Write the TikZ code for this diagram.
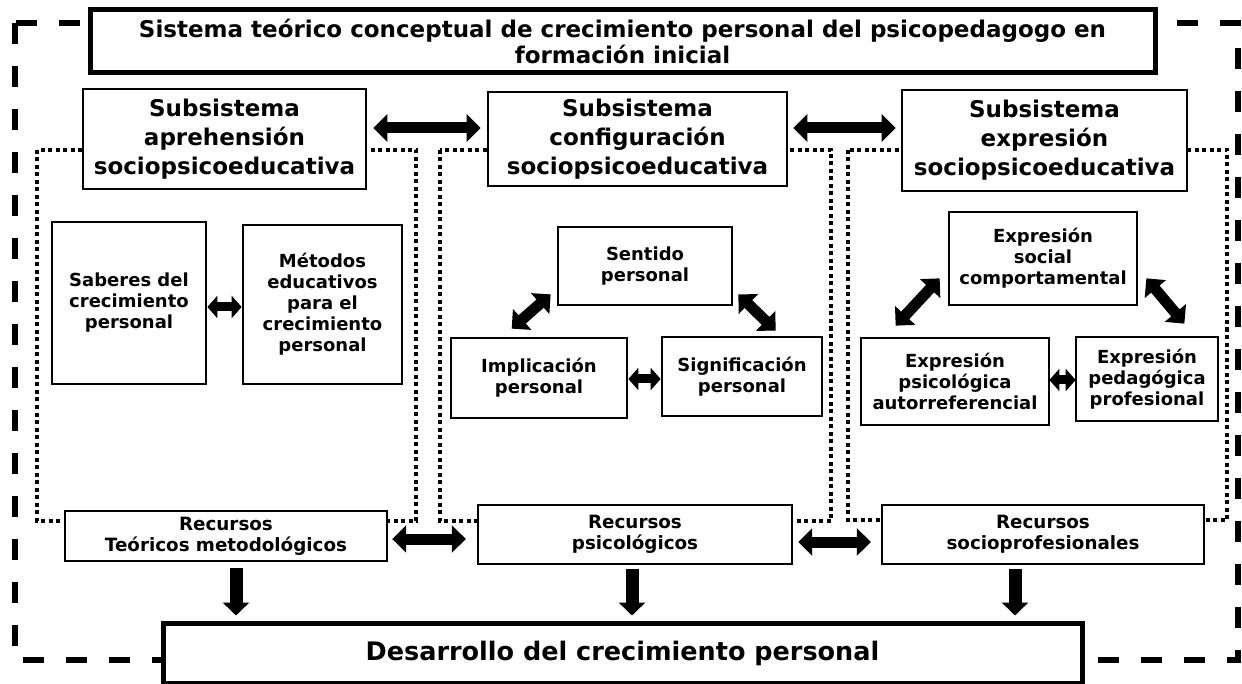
\documentclass[tikz,border=0pt]{standalone}
\usepackage{fontspec}
\setmainfont{DejaVu Sans}
\usepackage{tikz}
\usetikzlibrary{arrows.meta}
\tikzset{box/.style={draw, fill=white, line width=2.7pt, align=center, inner sep=0pt},
    thickbox/.style={box, line width=5pt},
    region/.style={line width=4pt, dash pattern=on 4pt off 3.5pt},
    frame/.style={line width=5.5pt, dash pattern=on 21pt off 22pt},
    link/.style={line width=11pt, {Triangle[width=27pt,length=14pt]}-{Triangle[width=27pt,length=14pt]}},
    small link/.style={line width=9pt, {Triangle[width=22pt,length=10pt]}-{Triangle[width=22pt,length=10pt]}},
    down link/.style={line width=13pt, -{Triangle[width=26pt,length=13pt]}}}

\begin{document}
\begin{tikzpicture}[x=1pt, y=-1pt,
        head/.style={font=\bfseries\fontsize{23}{29}\selectfont},
        inner/.style={font=\bfseries\fontsize{18}{21}\selectfont},
        res/.style={font=\bfseries\fontsize{18.3}{21}\selectfont}]
    \useasboundingbox (0,0) rectangle (1242,684);
    \draw[frame] (15,23) rectangle (1238,660);
    \draw[region] (37,150) rectangle (416,521);
    \draw[region] (440,150) rectangle (831,521);
    \draw[region] (848,150) rectangle (1227,520);

    \node[thickbox, minimum width=1065pt, minimum height=63pt,
        font=\bfseries\fontsize{23}{26}\selectfont] (sistema) at (622.5,41.5)
        {Sistema teórico conceptual de crecimiento personal del psicopedagogo en\\formación inicial};

    \node[box, head, minimum width=283pt, minimum height=100pt] (aprehension) at (224.5,139)
        {Subsistema\\aprehensión\\sociopsicoeducativa};
    \node[box, head, minimum width=299pt, minimum height=94pt] (configuracion) at (637.5,139)
        {Subsistema\\configuración\\sociopsicoeducativa};
    \node[box, head, minimum width=285pt, minimum height=101pt] (expresion) at (1044.5,140.5)
        {Subsistema\\expresión\\sociopsicoeducativa};

    \node[box, inner, minimum width=154pt, minimum height=162pt] (saberes) at (129,303)
        {Saberes del\\crecimiento\\personal};
    \node[box, inner, minimum width=159pt, minimum height=159pt] (metodos) at (322.5,304.5)
        {Métodos\\educativos\\para el\\crecimiento\\personal};

    \node[box, inner, minimum width=174pt, minimum height=78pt] (sentido) at (645,266)
        {Sentido\\personal};
    \node[box, inner, minimum width=176pt, minimum height=80pt] (implicacion) at (539,378)
        {Implicación\\personal};
    \node[box, inner, minimum width=160pt, minimum height=79pt] (significacion) at (742,376.5)
        {Significación\\personal};

    \node[box, inner, minimum width=188pt, minimum height=93pt] (social) at (1043,258.5)
        {Expresión\\social\\comportamental};
    \node[box, inner, minimum width=188pt, minimum height=87pt] (psicologica) at (955,381.5)
        {Expresión\\psicológica\\autorreferencial};
    \node[box, inner, minimum width=142pt, minimum height=84pt] (pedagogica) at (1147,379)
        {Expresión\\pedagógica\\profesional};

    \node[box, res, line width=2.4pt, minimum width=322pt, minimum height=50pt] (teoricos) at (226,536)
        {Recursos\\Teóricos metodológicos};
    \node[box, res, line width=2.4pt, minimum width=314pt, minimum height=59pt] (psicologicos) at (635,534.5)
        {Recursos\\psicológicos};
    \node[box, res, line width=2.4pt, minimum width=322pt, minimum height=59pt] (socioprof) at (1043,534.5)
        {Recursos\\socioprofesionales};

    \node[thickbox, minimum width=919pt, minimum height=60pt,
        font=\bfseries\fontsize{25.5}{30}\selectfont] (desarrollo) at (622.5,653)
        {Desarrollo del crecimiento personal};

    \draw[link] ([shift={(6,-11)}]aprehension.east) -- ([shift={(-6,-11)}]configuracion.west);
    \draw[link] ([shift={(5,-11)}]configuracion.east) -- ([shift={(-5,-12.5)}]expresion.west);

    \draw[small link] ([shift={(0,4)}]saberes.east) -- ([shift={(0,2.5)}]metodos.west);
    \draw[small link] ([shift={(0,1)}]implicacion.east) -- ([shift={(0,2.5)}]significacion.west);
    \draw[small link] ([shift={(-1,-1.5)}]psicologica.east) -- ([shift={(1,1)}]pedagogica.west);

    \draw[link] ([shift={(62,-8)}]implicacion.north west) -- ([shift={(-6,-12)}]sentido.south west);
    \draw[link] ([shift={(5,-12)}]sentido.south east) -- ([shift={(115,-5)}]significacion.north west);
    \draw[link] ([shift={(36,-11)}]psicologica.north west) -- ([shift={(-8,-28)}]social.south west);
    \draw[link] ([shift={(8,-28)}]social.south east) -- ([shift={(-35,-12)}]pedagogica.north east);

    \draw[link] ([shift={(4,3)}]teoricos.east) -- ([shift={(-11,4.5)}]psicologicos.west);
    \draw[link] ([shift={(5,7.5)}]psicologicos.east) -- ([shift={(-10,7.5)}]socioprof.west);

    \draw[down link] ([shift={(10,6)}]teoricos.south) -- ([shift={(10,-5)}]teoricos.south |- desarrollo.north);
    \draw[down link] ([shift={(-3,4)}]psicologicos.south) -- ([shift={(-3,-5)}]psicologicos.south |- desarrollo.north);
    \draw[down link] ([shift={(-28,4)}]socioprof.south) -- ([shift={(-28,-5)}]socioprof.south |- desarrollo.north);
\end{tikzpicture}
\end{document}
